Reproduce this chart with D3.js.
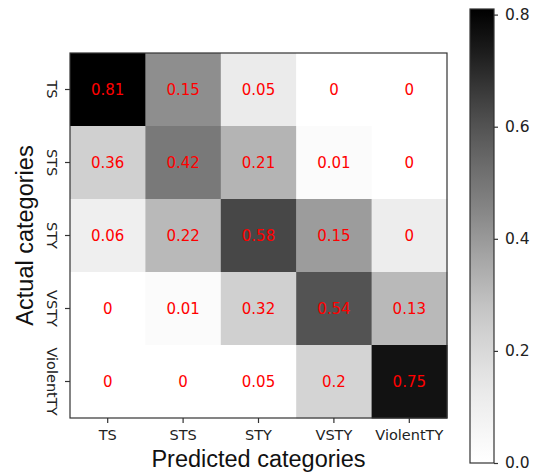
<!DOCTYPE html>
<html><head><meta charset="utf-8">
<script src="https://cdn.jsdelivr.net/npm/d3@7"></script>
<style>body{margin:0;background:#fff}svg{display:block}</style>
</head><body><svg id="chart" width="543" height="476"></svg>
<script>
// ---- data ----
const predictedCategories = ["TS", "STS", "STY", "VSTY", "ViolentTY"];
const actualCategories = ["TS", "STS", "STY", "VSTY", "ViolentTY"];
// printed values (row = actual, column = predicted)
const rowTS        = [0.81, 0.15, 0.05, 0, 0];
const rowSTS       = [0.36, 0.42, 0.21, 0.01, 0];
const rowSTY       = [0.06, 0.22, 0.58, 0.15, 0];
const rowVSTY      = [0, 0.01, 0.32, 0.54, 0.13];
const rowViolentTY = [0, 0, 0.05, 0.2, 0.75];
// shade level of each cell (colour-bar units)
const shadeTS        = [0.81, 0.43, 0.12, 0, 0];
const shadeSTS       = [0.235, 0.49, 0.325, 0.03, 0];
const shadeSTY       = [0.10, 0.31, 0.63, 0.39, 0.11];
const shadeVSTY      = [0, 0.027, 0.235, 0.60, 0.31];
const shadeViolentTY = [0, 0, 0, 0.22, 0.76];
const colorbarTicks = [0.0, 0.2, 0.4, 0.6, 0.8];
const colorMin = 0, colorMax = 0.81;
const xTitle = "Predicted categories";
const yTitle = "Actual categories";

const values = [rowTS, rowSTS, rowSTY, rowVSTY, rowViolentTY];
const shades = [shadeTS, shadeSTS, shadeSTY, shadeVSTY, shadeViolentTY];

// ---- layout ----
const plot = {x0: 70, x1: 447, y0: 53, y1: 418};
const cb = {x0: 470, x1: 494, y0: 9, y1: 463};
const svg = d3.select("#chart");
const tickFont = "'DejaVu Sans', sans-serif";
const titleFont = "'Liberation Sans', Arial, sans-serif";

const x = d3.scaleBand().domain(predictedCategories).range([plot.x0, plot.x1]);
const y = d3.scaleBand().domain(actualCategories).range([plot.y0, plot.y1]);
const color = d3.scaleSequential(d3.interpolateGreys).domain([colorMin, colorMax]);

const cells = [];
actualCategories.forEach((a, i) => predictedCategories.forEach((p, j) => {
  cells.push({a, p, v: values[i][j], s: shades[i][j]});
}));

svg.append("g").selectAll("rect").data(cells).join("rect")
  .attr("x", d => x(d.p)).attr("y", d => y(d.a))
  .attr("width", x.bandwidth() + 0.5).attr("height", y.bandwidth() + 0.5)
  .attr("fill", d => color(d.s));

svg.append("g").selectAll("text").data(cells).join("text")
  .attr("x", d => x(d.p) + x.bandwidth() / 2)
  .attr("y", d => y(d.a) + y.bandwidth() / 2)
  .attr("text-anchor", "middle").attr("dominant-baseline", "central")
  .attr("fill", "#ff0000").attr("font-family", tickFont).attr("font-size", 15)
  .text(d => d.v);

svg.append("rect").attr("x", plot.x0).attr("y", plot.y0)
  .attr("width", plot.x1 - plot.x0).attr("height", plot.y1 - plot.y0)
  .attr("fill", "none").attr("stroke", "#333").attr("stroke-width", 1.2);

// x axis
const xAxis = svg.append("g").attr("transform", `translate(0,${plot.y1})`)
  .call(d3.axisBottom(x).tickSize(5).tickPadding(7).tickSizeOuter(0));
xAxis.select(".domain").remove();
xAxis.selectAll("line").attr("stroke", "#333").attr("stroke-width", 1.2);
xAxis.selectAll("text").attr("font-family", tickFont).attr("font-size", 14.5).attr("fill", "#222");

// y axis
const yAxis = svg.append("g").attr("transform", `translate(${plot.x0},0)`)
  .call(d3.axisLeft(y).tickSize(5).tickSizeOuter(0));
yAxis.select(".domain").remove();
yAxis.selectAll("line").attr("stroke", "#333").attr("stroke-width", 1.2);
yAxis.selectAll("text")
  .attr("x", null).attr("dy", null)
  .attr("transform", "translate(-18,0) rotate(90)")
  .attr("text-anchor", "middle").attr("dominant-baseline", "central")
  .attr("font-family", tickFont).attr("font-size", 14.5).attr("fill", "#222");

// titles
svg.append("text").attr("x", (plot.x0 + plot.x1) / 2).attr("y", 467)
  .attr("text-anchor", "middle").attr("font-family", titleFont).attr("font-size", 23.5)
  .attr("fill", "#111").text(xTitle);
svg.append("text").attr("transform", `translate(33,${(plot.y0 + plot.y1) / 2}) rotate(-90)`)
  .attr("text-anchor", "middle").attr("font-family", titleFont).attr("font-size", 23.5)
  .attr("fill", "#111").text(yTitle);

// colour bar
const grad = svg.append("defs").append("linearGradient").attr("id", "cbgrad")
  .attr("x1", 0).attr("y1", 1).attr("x2", 0).attr("y2", 0);
d3.range(0, 1.0001, 0.05).forEach(t => {
  grad.append("stop").attr("offset", t).attr("stop-color", color(colorMin + t * (colorMax - colorMin)));
});
svg.append("rect").attr("x", cb.x0).attr("y", cb.y0)
  .attr("width", cb.x1 - cb.x0).attr("height", cb.y1 - cb.y0)
  .attr("fill", "url(#cbgrad)").attr("stroke", "#333").attr("stroke-width", 1.2);
const cbScale = d3.scaleLinear().domain([colorMin, colorMax]).range([cb.y1, cb.y0]);
const cbAxis = svg.append("g").attr("transform", `translate(${cb.x1},0)`)
  .call(d3.axisRight(cbScale).tickValues(colorbarTicks).tickFormat(d3.format(".1f"))
    .tickSize(4).tickPadding(7).tickSizeOuter(0));
cbAxis.select(".domain").remove();
cbAxis.selectAll("line").attr("stroke", "#333").attr("stroke-width", 1.2);
cbAxis.selectAll("text").attr("font-family", tickFont).attr("font-size", 15.5).attr("fill", "#222");
</script></body></html>
